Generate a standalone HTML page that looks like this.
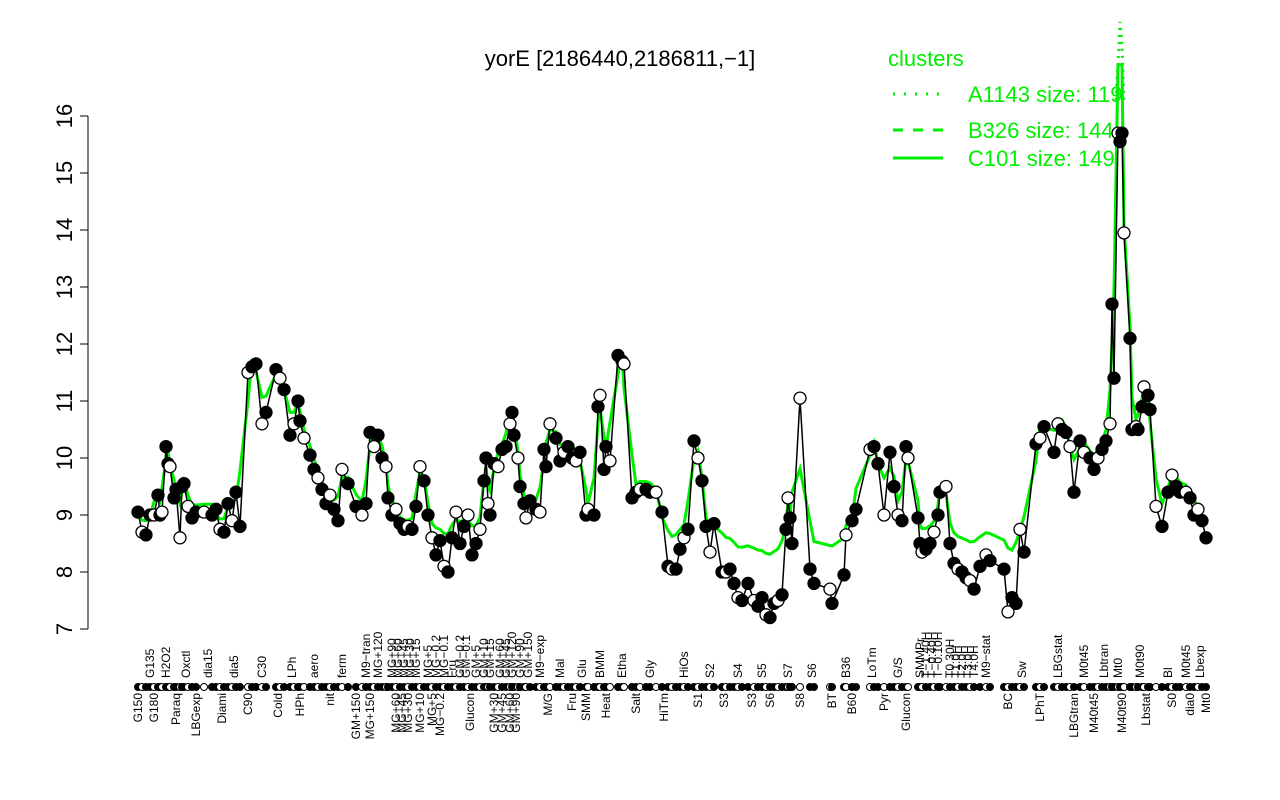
<!DOCTYPE html>
<html><head><meta charset="utf-8"><style>
body{margin:0;background:#fff}
svg{display:block;font-family:"Liberation Sans",sans-serif}
</style></head><body>
<svg id="s" width="1280" height="800" viewBox="0 0 1280 800" xmlns="http://www.w3.org/2000/svg">
<text x="620" y="66" font-size="22" text-anchor="middle">yorE [2186440,2186811,−1]</text>
<g stroke="#000" stroke-width="1">
<line x1="88" y1="116" x2="88" y2="629"/>
<line x1="80" y1="629" x2="88" y2="629"/><line x1="80" y1="572" x2="88" y2="572"/><line x1="80" y1="515" x2="88" y2="515"/><line x1="80" y1="458" x2="88" y2="458"/><line x1="80" y1="401" x2="88" y2="401"/><line x1="80" y1="344" x2="88" y2="344"/><line x1="80" y1="287" x2="88" y2="287"/><line x1="80" y1="230" x2="88" y2="230"/><line x1="80" y1="173" x2="88" y2="173"/><line x1="80" y1="116" x2="88" y2="116"/>
</g>
<g font-size="22" text-anchor="middle">
<text transform="translate(72,629) rotate(-90)">7</text><text transform="translate(72,572) rotate(-90)">8</text><text transform="translate(72,515) rotate(-90)">9</text><text transform="translate(72,458) rotate(-90)">10</text><text transform="translate(72,401) rotate(-90)">11</text><text transform="translate(72,344) rotate(-90)">12</text><text transform="translate(72,287) rotate(-90)">13</text><text transform="translate(72,230) rotate(-90)">14</text><text transform="translate(72,173) rotate(-90)">15</text><text transform="translate(72,116) rotate(-90)">16</text>
</g>
<g fill="#00ee00" font-size="22">
<text x="888" y="66">clusters</text>
<text x="968" y="102">A1143 size: 119</text>
<text x="968" y="138">B326 size: 144</text>
<text x="968" y="166">C101 size: 149</text>
</g>
<g stroke="#00ee00" stroke-width="3">
<line x1="893" y1="94" x2="943" y2="94" stroke-dasharray="2,9"/>
<line x1="893" y1="130" x2="943" y2="130" stroke-dasharray="10,10"/>
<line x1="893" y1="158" x2="943" y2="158"/>
</g>
<g id="g"></g>
</svg>
<script>
var d=[138,9.05,142,8.7,146,8.65,150,9.0,154,9.0,158,9.35,160,9.0,162,9.05,166,10.2,168,9.9,170,9.85,174,9.3,176,9.45,180,8.6,182,9.5,184,9.55,188,9.15,192,8.95,196,9.05,204,9.05,212,9.0,216,9.1,220,8.75,224,8.7,228,9.2,232,8.9,236,9.4,240,8.8,248,11.5,252,11.6,256,11.65,262,10.6,266,10.8,276,11.55,280,11.4,284,11.2,290,10.4,294,10.6,298,11.0,300,10.65,304,10.35,310,10.05,314,9.8,318,9.65,322,9.45,326,9.2,330,9.35,334,9.1,338,8.9,342,9.8,348,9.55,356,9.15,362,9.0,366,9.2,370,10.45,374,10.2,378,10.4,382,10.0,386,9.85,388,9.3,392,9.0,396,9.1,400,8.85,404,8.75,408,8.8,412,8.75,416,9.15,420,9.85,424,9.6,428,9.0,432,8.6,436,8.3,440,8.55,444,8.1,448,8.0,452,8.6,456,9.05,460,8.5,464,8.8,468,9.0,472,8.3,476,8.5,480,8.75,484,9.6,486,10.0,488,9.2,490,9.0,494,9.9,498,9.85,502,10.15,506,10.2,510,10.6,512,10.8,514,10.4,518,10.0,520,9.5,524,9.2,526,8.95,530,9.25,536,9.1,540,9.05,544,10.15,546,9.85,550,10.6,556,10.35,560,9.95,564,10.1,568,10.2,572,10.0,576,9.95,580,10.1,586,9.0,588,9.1,594,9.0,598,10.9,600,11.1,604,9.8,606,10.2,610,9.95,618,11.8,622,11.7,624,11.65,632,9.3,636,9.4,640,9.45,646,9.45,650,9.4,656,9.4,662,9.05,668,8.1,672,8.05,676,8.05,680,8.4,684,8.6,688,8.75,694,10.3,698,10.0,702,9.6,706,8.8,710,8.35,714,8.85,722,8.0,726,8.0,730,8.05,734,7.8,738,7.55,742,7.5,748,7.8,754,7.5,758,7.4,762,7.55,766,7.25,770,7.2,774,7.45,778,7.5,782,7.6,786,8.75,788,9.3,790,8.95,792,8.5,800,11.05,810,8.05,814,7.8,830,7.7,832,7.45,844,7.95,846,8.65,852,8.9,856,9.1,870,10.15,874,10.2,878,9.9,884,9.0,890,10.1,894,9.5,898,9.0,902,8.9,906,10.2,908,10.0,918,8.95,920,8.5,922,8.35,926,8.4,930,8.5,934,8.7,938,9.0,940,9.4,946,9.5,950,8.5,954,8.15,958,8.05,962,8.0,966,7.9,970,7.85,974,7.7,980,8.1,986,8.3,990,8.2,1004,8.05,1008,7.3,1012,7.55,1016,7.45,1020,8.75,1024,8.35,1036,10.25,1040,10.35,1044,10.55,1054,10.1,1058,10.6,1062,10.5,1066,10.45,1070,10.2,1074,9.4,1080,10.3,1084,10.1,1090,10.0,1094,9.8,1098,10.0,1102,10.15,1106,10.3,1110,10.6,1112,12.7,1114,11.4,1118,15.7,1120,15.55,1122,15.7,1124,13.95,1130,12.1,1132,10.5,1136,10.55,1138,10.5,1142,10.9,1144,11.25,1148,11.1,1150,10.85,1156,9.15,1162,8.8,1168,9.4,1172,9.7,1176,9.5,1180,9.4,1186,9.4,1190,9.3,1194,9.0,1198,9.1,1202,8.9,1206,8.6];
function Y(v){return 629-(v-7)*57}
var xs=[],vs=[];for(var i=0;i<d.length;i+=2){xs.push(d[i]);vs.push(d[i+1]);}
var h='';
var gp=[];for(var i=0;i<xs.length;i++){var v=vs[i];var a=vs[Math.max(0,i-1)],b=vs[Math.min(vs.length-1,i+1)];var s=(a+2*v+b)/4;var g=s<9?s+(9-s)*0.6:s+0.15;if(xs[i]>=1116&&xs[i]<=1122)g=16.9;gp.push(xs[i]+','+Y(g).toFixed(1));}
h+='<polyline points="'+gp.join(' ')+'" fill="none" stroke="#00ee00" stroke-width="3"/>';
h+='<polyline points="1116,100 1119,45 1120,22 1122,45 1124,100" fill="none" stroke="#00ee00" stroke-width="3" stroke-dasharray="2,5"/>';
var bp=[];for(var i=0;i<xs.length;i++)bp.push(xs[i]+','+Y(vs[i]).toFixed(1));
h+='<polyline points="'+bp.join(' ')+'" fill="none" stroke="#000" stroke-width="1.5"/>';
for(var i=0;i<xs.length;i++){h+='<circle cx="'+xs[i]+'" cy="'+Y(vs[i]).toFixed(1)+'" r="6" fill="'+(i%3==1?'#fff':'#000')+'" stroke="#000" stroke-width="1.3"/>';}
for(var i=0;i<xs.length;i++){h+='<circle cx="'+xs[i]+'" cy="687" r="3.5" fill="'+(i%3==1?'#fff':'#000')+'" stroke="#000" stroke-width="1"/>';}
var up=[[150,'G135'],[166,'H2O2'],[186,'Oxctl'],[208,'dia15'],[234,'dia5'],[262,'C30'],[292,'LPh'],[314,'aero'],[342,'ferm'],[366,'M9−tran'],[378,'MG+120'],[392,'MG+90'],[398,'MG+60'],[404,'MG+45'],[410,'MG+30'],[416,'MG+15'],[428,'MG+5'],[436,'MG−0.2'],[444,'MG−0.1'],[452,'Fru'],[460,'GM−0.2'],[466,'GM−0.1'],[476,'GM+5'],[484,'GM+10'],[490,'GM+15'],[500,'GM+60'],[506,'GM+45'],[512,'GM+120'],[520,'GM+90'],[528,'GM+150'],[540,'M9−exp'],[560,'Mal'],[582,'Glu'],[600,'BMM'],[622,'Etha'],[650,'Gly'],[684,'HiOs'],[710,'S2'],[738,'S4'],[762,'S5'],[788,'S7'],[812,'S6'],[846,'B36'],[872,'LoTm'],[898,'G/S'],[920,'SMMPr'],[926,'T−1.40H'],[932,'T−0.40H'],[938,'T−0.10H'],[950,'T0.30H'],[956,'T1.0H'],[962,'T2.0H'],[968,'T3.0H'],[974,'T4.0H'],[986,'M9−stat'],[1022,'Sw'],[1058,'LBGstat'],[1084,'M0t45'],[1104,'Lbtran'],[1118,'Mt0'],[1140,'M0t90'],[1168,'Bl'],[1186,'M0t45'],[1200,'Lbexp']];
var lo=[[138,'G150'],[154,'G180'],[176,'Paraq'],[196,'LBGexp'],[222,'Diami'],[248,'C90'],[278,'Cold'],[300,'HPh'],[330,'nit'],[356,'GM+150'],[370,'MG+150'],[396,'MG+60'],[402,'MG+45'],[408,'MG+30'],[420,'MG+10'],[432,'MG+5'],[440,'MG−0.2'],[470,'Glucon'],[494,'GM+30'],[502,'GM+45'],[510,'GM+60'],[516,'GM+90'],[548,'M/G'],[572,'Fru'],[586,'SMM'],[606,'Heat'],[636,'Salt'],[664,'HiTm'],[698,'S1'],[724,'S3'],[752,'S3'],[770,'S6'],[800,'S8'],[832,'BT'],[852,'B60'],[884,'Pyr'],[906,'Glucon'],[1008,'BC'],[1040,'LPhT'],[1074,'LBGtran'],[1094,'M40t45'],[1122,'M40t90'],[1146,'Lbstat'],[1172,'S0'],[1190,'dia0'],[1206,'Mt0']];
up.forEach(function(l){h+='<text transform="translate('+(l[0]+4)+',678) rotate(-90)" font-size="12">'+l[1]+'</text>';});
lo.forEach(function(l){h+='<text transform="translate('+(l[0]+4)+',693) rotate(-90)" font-size="12" text-anchor="end">'+l[1]+'</text>';});
document.getElementById('g').innerHTML=h;
</script>
</body></html>
